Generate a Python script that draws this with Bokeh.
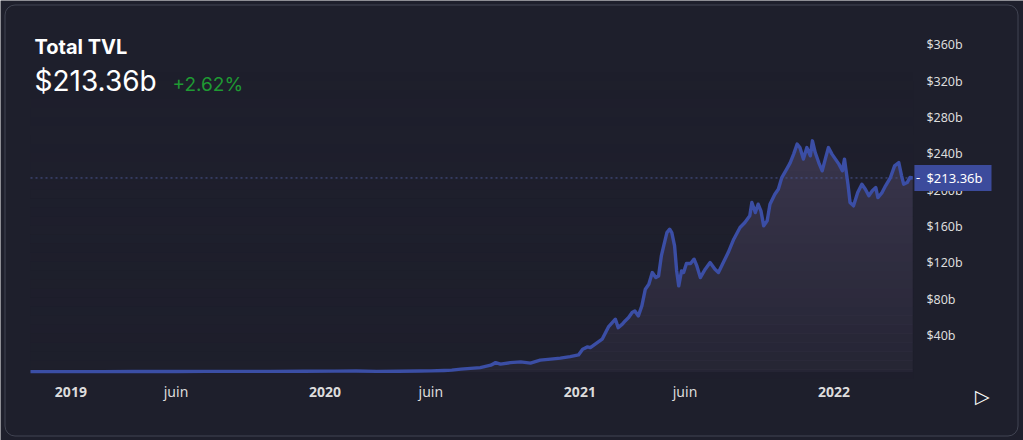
import numpy as np
import pandas as pd
from bokeh.plotting import figure
from bokeh.models import (ColumnDataSource, Range1d, FixedTicker, Label, LinearAxis,
                          DatetimeAxis, CustomJSTickFormatter, BoxAnnotation)
from bokeh.embed import file_html
from bokeh.resources import INLINE

# ---------------- data ----------------
dates = [
    "2018-11-04", "2018-12-01", "2019-01-01", "2019-02-15", "2019-04-01", "2019-06-01",
    "2019-07-15", "2019-09-01", "2019-10-15", "2019-12-01", "2020-01-15", "2020-02-15",
    "2020-03-15", "2020-04-15", "2020-05-15", "2020-06-01", "2020-06-20", "2020-07-01",
    "2020-07-14", "2020-08-11", "2020-08-26", "2020-09-02", "2020-09-09", "2020-09-23",
    "2020-10-08", "2020-10-22", "2020-11-05", "2020-11-20", "2020-12-04", "2020-12-18",
    "2020-12-30", "2021-01-05", "2021-01-12", "2021-01-16", "2021-01-26", "2021-02-02",
    "2021-02-11", "2021-02-21", "2021-02-25", "2021-03-03", "2021-03-07", "2021-03-12",
    "2021-03-17", "2021-03-21", "2021-03-26", "2021-03-31", "2021-04-05", "2021-04-10",
    "2021-04-15", "2021-04-20", "2021-04-24", "2021-04-28", "2021-05-02", "2021-05-06",
    "2021-05-10", "2021-05-13", "2021-05-17", "2021-05-20", "2021-05-23", "2021-05-27",
    "2021-05-30", "2021-06-03", "2021-06-09", "2021-06-14", "2021-06-18", "2021-06-23",
    "2021-06-30", "2021-07-07", "2021-07-14", "2021-07-19", "2021-07-26", "2021-08-02",
    "2021-08-10", "2021-08-19", "2021-08-26", "2021-09-02", "2021-09-05", "2021-09-10",
    "2021-09-14", "2021-09-18", "2021-09-22", "2021-09-27", "2021-10-01", "2021-10-08",
    "2021-10-13", "2021-10-18", "2021-10-25", "2021-10-30", "2021-11-04", "2021-11-09",
    "2021-11-13", "2021-11-18", "2021-11-23", "2021-11-28", "2021-12-01", "2021-12-05",
    "2021-12-10", "2021-12-15", "2021-12-20", "2021-12-24", "2021-12-29", "2022-01-03",
    "2022-01-08", "2022-01-13", "2022-01-16", "2022-01-21", "2022-01-24", "2022-01-29",
    "2022-02-04", "2022-02-10", "2022-02-15", "2022-02-20", "2022-02-25", "2022-03-02",
    "2022-03-05", "2022-03-11", "2022-03-16", "2022-03-23", "2022-03-29", "2022-04-04",
    "2022-04-08", "2022-04-11", "2022-04-16", "2022-04-20", "2022-04-24",
]
tvl_billions = [
    0.30, 0.28, 0.30, 0.32, 0.42, 0.50,
    0.55, 0.55, 0.60, 0.65, 0.80, 1.05,
    0.55, 0.75, 0.95, 1.10, 1.60, 2.00,
    3.0, 4.7, 7.4, 10.2, 8.5, 10.2,
    11.0, 9.6, 12.9, 14.0, 15.1, 16.8,
    18.7, 25.0, 27.5, 26.7, 32.2, 36.0,
    49.5, 58.0, 48.7, 52.5, 56.1, 59.8,
    65.3, 67.1, 61.6, 72.6, 91.0, 96.5,
    109.3, 103.8, 105.6, 127.6, 140.5, 153.3,
    157.0, 153.3, 138.7, 111.1, 94.6, 111.1,
    109.3, 119.2, 119.2, 124.0, 116.6, 103.8,
    113.0, 120.3, 113.0, 109.3, 120.3, 131.3,
    146.0, 158.8, 164.3, 171.7, 186.3, 175.3,
    184.5, 177.2, 160.7, 166.2, 184.5, 195.5,
    201.0, 213.8, 223.1, 230.0, 239.6, 250.6,
    246.8, 234.1, 246.8, 237.7, 254.2, 241.3,
    230.3, 221.2, 235.8, 246.8, 239.6, 234.1,
    228.6, 221.2, 234.1, 206.5, 186.3, 182.7,
    197.3, 206.5, 201.0, 193.7, 199.2, 202.8,
    191.8, 197.3, 204.7, 213.8, 226.7, 230.3,
    215.7, 206.5, 208.3, 213.8, 213.36,
]
year_ticks = ["2019-01-01", "2020-01-01", "2021-01-01", "2022-01-01"]
month_ticks = ["2019-06-01", "2020-06-01", "2021-06-01"]
month_label = "juin"
price_ticks = [40, 80, 120, 160, 200, 240, 280, 320, 360]
title_text = "Total TVL"
current_value = 213.36
change_pct = 2.62

# ---------------- layout / styling ----------------
W, H = 1023, 440
DAY = 86400000.0
PX_PER_DAY = 0.6963        # horizontal scale
PX_PER_B = 0.909           # vertical scale (pixels per $1b)
PLOT_LEFT_PX = 30          # where the series starts
ZERO_PX = 371.4            # pixel row of $0b
AXIS_PX = 378              # pixel row of the time axis
CARD_INSET = 4.5           # card border inset

BG = "#1e1f2c"
LINE = "#3b4ea5"
FILL = "#3f3a52"
TXT = "#dcdcdc"


def ms(d):
    return pd.Timestamp(d).value / 1e6


x_lo = ms(dates[0]) - PLOT_LEFT_PX / PX_PER_DAY * DAY
x_hi = x_lo + W / PX_PER_DAY * DAY
y_hi = ZERO_PX / PX_PER_B
y_lo = -(H - ZERO_PX) / PX_PER_B
y_axis_base = -(AXIS_PX - ZERO_PX) / PX_PER_B

x_start = ms(dates[0])
x_end = ms(dates[-1]) + DAY

x = pd.to_datetime(dates)
src = ColumnDataSource(dict(x=x, y=tvl_billions, y0=[0] * len(dates)))

p = figure(width=W, height=H, x_axis_type="datetime",
           x_axis_location=None, y_axis_location=None,
           x_range=Range1d(x_lo, x_hi), y_range=Range1d(y_lo, y_hi),
           output_backend="svg", toolbar_location=None, min_border=0)
p.background_fill_color = BG
p.border_fill_color = BG
p.outline_line_color = None
p.grid.grid_line_color = None

# area under the curve + vertical fade
p.varea(x="x", y1="y0", y2="y", source=src, fill_color=FILL, fill_alpha=1.0)
nb = 34
edges = np.linspace(y_axis_base, 330, nb + 1)
mids = (edges[:-1] + edges[1:]) / 2
alphas = 0.8 * np.clip(1 - (mids - y_axis_base) / (330 - y_axis_base), 0, 1) ** 1.1
band_src = ColumnDataSource(dict(bottom=edges[:-1], top=edges[1:], alpha=alphas,
                                 left=[x_start] * nb, right=[x_end] * nb))
p.quad(left="left", right="right", bottom="bottom", top="top", source=band_src,
       fill_color=BG, fill_alpha="alpha", line_color=None)

# current value guide
p.segment(x0=[x_start], x1=[x_end], y0=[current_value], y1=[current_value],
          line_color="#4a5590", line_width=1, line_dash="2 3")
p.line(x="x", y="y", source=src, line_color=LINE, line_width=3.4, line_join="round")


def style_axis(ax, size, bold=False):
    ax.axis_line_color = None
    ax.major_tick_line_color = None
    ax.minor_tick_line_color = None
    ax.major_tick_out = 0
    ax.major_tick_in = 0
    ax.major_label_text_color = TXT
    ax.major_label_text_font = "Noto Sans"
    ax.major_label_text_font_size = size
    if bold:
        ax.major_label_text_font_style = "bold"


# price axis (right)
yax = LinearAxis(fixed_location=x_end, ticker=FixedTicker(ticks=price_ticks),
                 formatter=CustomJSTickFormatter(code="return '$' + tick + 'b'"))
style_axis(yax, "12.5px")
yax.major_label_standoff = 13
p.add_layout(yax, "right")

# time axis: years (bold) and months (regular)
xax = DatetimeAxis(fixed_location=y_axis_base, ticker=FixedTicker(ticks=[ms(d) for d in year_ticks]),
                   formatter=CustomJSTickFormatter(code="return new Date(tick).getUTCFullYear().toString()"))
style_axis(xax, "14px", bold=True)
xax.major_label_standoff = 8
p.add_layout(xax, "below")

mxax = DatetimeAxis(fixed_location=y_axis_base, ticker=FixedTicker(ticks=[ms(d) for d in month_ticks]),
                    formatter=CustomJSTickFormatter(args=dict(lbl=month_label), code="return lbl"))
style_axis(mxax, "14px")
mxax.major_label_standoff = 3
p.add_layout(mxax, "below")

# titles
p.add_layout(Label(x=x_lo, y=y_hi, x_offset=34, y_offset=-46.5, text=title_text,
                   text_baseline="middle", text_color="#ffffff", text_font="Inter",
                   text_font_size="20px", text_font_style="bold"))
p.add_layout(Label(x=x_lo, y=y_hi, x_offset=34, y_offset=-80.5, text=f"${current_value:.2f}b",
                   text_baseline="middle", text_color="#ffffff", text_font="Inter",
                   text_font_size="28px"))
p.add_layout(Label(x=x_lo, y=y_hi, x_offset=172, y_offset=-83.5, text=f"+{change_pct:.2f}%",
                   text_baseline="middle", text_color="#1f9a33", text_font="Inter",
                   text_font_size="19px"))

# price tag
p.add_layout(Label(x=x_end, y=current_value, x_offset=1, text=f"${current_value:.2f}b",
                   text_baseline="middle", text_align="left", text_color="#ffffff",
                   text_font="Noto Sans", text_font_size="13px",
                   background_fill_color="#3c4b9c",
                   padding=dict(left=12, right=9, top=4, bottom=4)))
p.add_layout(Label(x=x_end, y=current_value, x_offset=2.5, text="-",
                   text_baseline="middle", text_align="left", text_color="#ffffff",
                   text_font="Noto Sans", text_font_size="13px"))

# play button
p.add_layout(Label(x=x_end, y=y_axis_base, x_offset=69, y_offset=-17, text="\u25b7",
                   text_baseline="middle", text_align="center", text_color="#ffffff",
                   text_font="DejaVu Sans", text_font_size="19px"))

# card border
p.add_layout(BoxAnnotation(
    left=x_lo + CARD_INSET / PX_PER_DAY * DAY, right=x_hi - (CARD_INSET + 1) / PX_PER_DAY * DAY,
    top=y_hi - CARD_INSET / PX_PER_B, bottom=y_lo + CARD_INSET / PX_PER_B,
    fill_alpha=0, line_color="#414452", line_alpha=1.0, line_width=1, border_radius=10))

html = file_html(p, INLINE)
open("out.html", "w").write(html)
